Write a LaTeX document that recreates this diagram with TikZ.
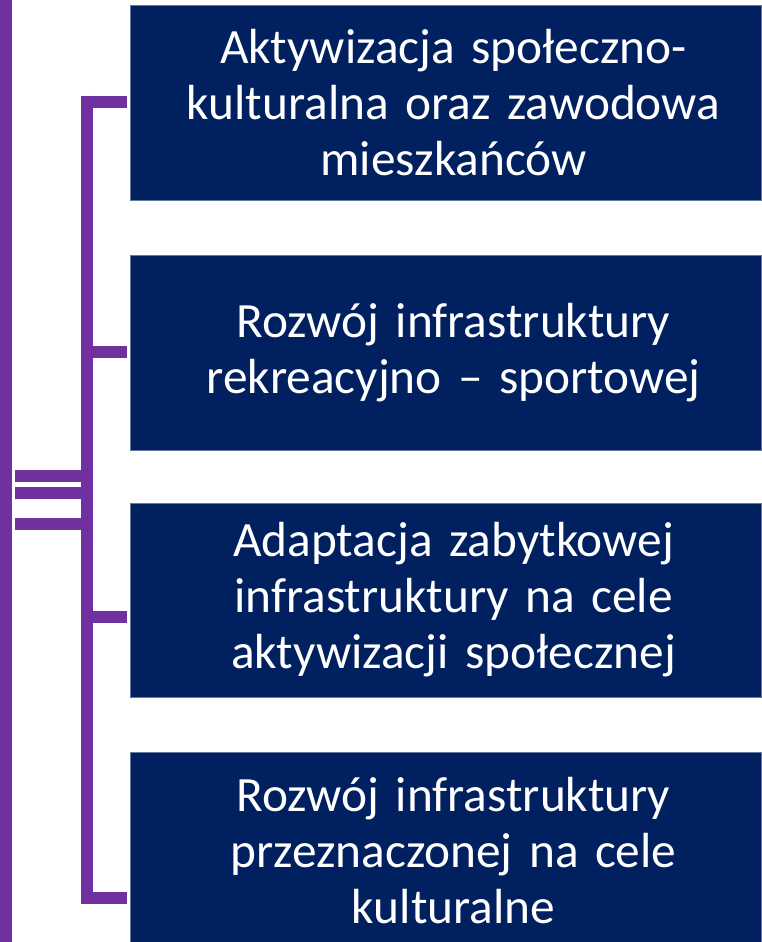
\documentclass[tikz,border=0pt]{standalone}
\usepackage{fontspec}
\setmainfont{Carlito}
\definecolor{navy}{HTML}{002060}
\definecolor{violet}{HTML}{7030A0}
\begin{document}
\begin{tikzpicture}[x=0.75pt,y=-0.75pt,
  box/.style={fill=navy,draw=navy!60!white,line width=0.5pt,minimum width=631*0.75pt,inner sep=0pt},
  lbl/.style={text=white,text width=620*0.75pt,align=center,inner sep=0pt,
    font=\fontsize{37pt}{42pt}\selectfont},
  bar/.style={draw=violet,line width=9pt},
  tick/.style={draw=violet,line width=9pt}]
\useasboundingbox (0,0) rectangle (761,942);
% boxes
\node[box,minimum height=195*0.75pt] (b1) at (445.5,102.5) {};
\node[box,minimum height=195*0.75pt] (b2) at (445.5,352.5) {};
\node[box,minimum height=194*0.75pt] (b3) at (445.5,600) {};
\node[box,minimum height=192*0.75pt] (b4) at (445.5,848) {};
\node[lbl] (t1) at ([xshift=6pt]b1.center) {Aktywizacja społeczno-\\kulturalna oraz zawodowa\\mieszkańców};
\node[lbl] (t2) at ([xshift=6pt]b2.center) {Rozwój infrastruktury\\rekreacyjno – sportowej};
\node[lbl] (t3) at ([xshift=6pt]b3.center) {Adaptacja zabytkowej\\infrastruktury na cele\\aktywizacji społecznej};
\node[lbl] (t4) at ([xshift=6pt,yshift=-2pt]b4.center) {Rozwój infrastruktury\\przeznaczonej na cele\\kulturalne};
% left bar
\coordinate (lt) at (6,0);
\coordinate (lb) at (6,942);
\draw[bar] (lt) -- (lb);
% three short lines
\coordinate (s1a) at (15,476); \coordinate (s1b) at (87,476);
\coordinate (s2a) at (15,493); \coordinate (s2b) at (87,493);
\coordinate (s3a) at (15,524); \coordinate (s3b) at (87,524);
\draw[tick] (s1a) -- (s1b);
\draw[tick] (s2a) -- (s2b);
\draw[tick] (s3a) -- (s3b);
% bracket
\coordinate (k1) at (87,102);
\coordinate (k2) at (87,352);
\coordinate (k3) at (87,617);
\coordinate (k4) at (87,898);
\draw[bar] (87,96) -- (87,904);
\draw[tick] (81,102) -- ([xshift=-2.25pt]b1.west |- k1);
\draw[tick] (k2) -- ([xshift=-2.25pt]b2.west |- k2);
\draw[tick] (k3) -- ([xshift=-2.25pt]b3.west |- k3);
\draw[tick] (81,898) -- ([xshift=-2.25pt]b4.west |- k4);
\end{tikzpicture}
\end{document}
